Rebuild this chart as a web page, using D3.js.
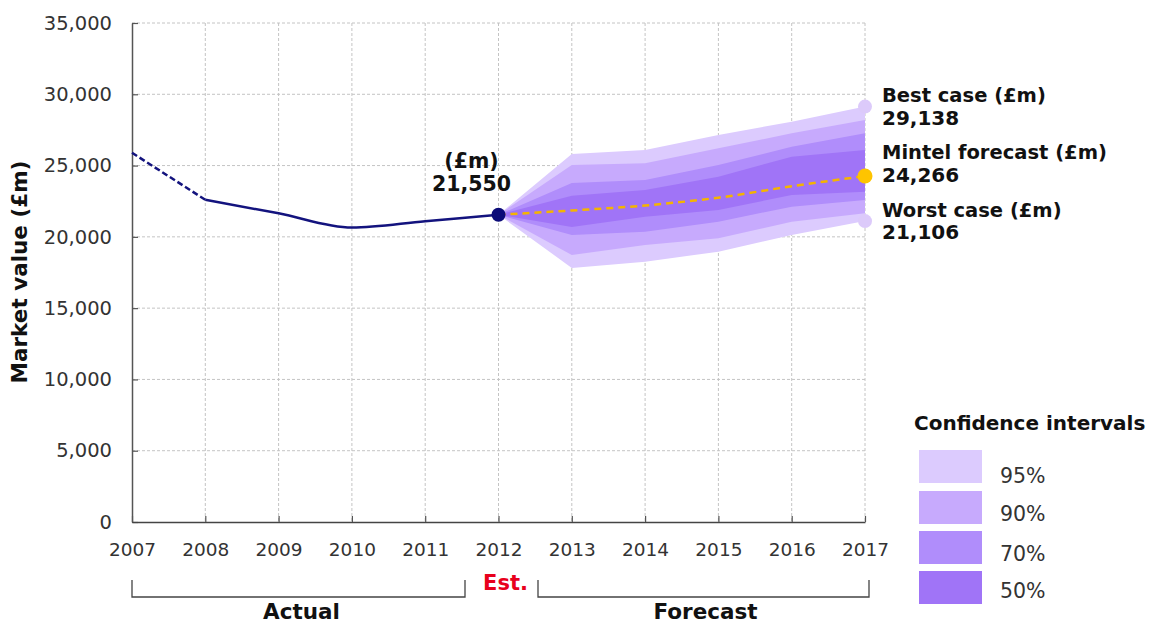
<!DOCTYPE html>
<html>
<head>
<meta charset="utf-8">
<script src="https://cdn.jsdelivr.net/npm/d3@7"></script>
<style>
  html, body { margin: 0; padding: 0; background: #fff; }
  svg { display: block; font-family: Verdana, "DejaVu Sans", sans-serif; }
</style>
</head>
<body>
<svg id="chart" width="1152" height="625"></svg>
<script>
// Market value, actual years (£m)
const actualYears = [2007, 2008, 2009, 2010, 2011, 2012];
const actualValues = [25900, 22600, 21650, 20650, 21100, 21550];

// Forecast years and central forecast (£m)
const forecastYears = [2012, 2013, 2014, 2015, 2016, 2017];
const forecastValues = [21550, 21850, 22200, 22750, 23550, 24266];

// Confidence interval bounds (£m)
const ci95Upper = [21550, 25810, 26090, 27150, 28080, 29138];
const ci95Lower = [21550, 17820, 18260, 18960, 20130, 21106];
const ci90Upper = [21550, 25040, 25160, 26210, 27260, 28200];
const ci90Lower = [21550, 18730, 19430, 19900, 21065, 21650];
const ci70Upper = [21550, 23780, 23990, 25040, 26320, 27260];
const ci70Lower = [21550, 20130, 20360, 21065, 22115, 22585];
const ci50Upper = [21550, 22890, 23290, 24220, 25620, 26090];
const ci50Lower = [21550, 20690, 21415, 21885, 22935, 23170];

const bandLabels = ["95%", "90%", "70%", "50%"];
const bandColors = ["#dccbfe", "#c7aafd", "#b08dfb", "#a074f7"];

const xTicks = [2007, 2008, 2009, 2010, 2011, 2012, 2013, 2014, 2015, 2016, 2017];
const yTicks = [0, 5000, 10000, 15000, 20000, 25000, 30000, 35000];

const estValue = 21550;
const bestCase = 29138;
const mintelForecast = 24266;
const worstCase = 21106;

const svg = d3.select("#chart");
const plotLeft = 132, plotRight = 865, plotTop = 23, plotBottom = 522;

const x = d3.scaleLinear().domain([2007, 2017]).range([plotLeft, plotRight]);
const y = d3.scaleLinear().domain([0, 35000]).range([plotBottom, plotTop]);

// Grid
const grid = svg.append("g").attr("class", "grid");
grid.selectAll("line.v").data(xTicks.slice(1)).join("line").attr("class", "v")
  .attr("x1", d => x(d)).attr("x2", d => x(d))
  .attr("y1", y(35000)).attr("y2", y(0))
  .attr("stroke", "#c4c4c4").attr("stroke-width", 1).attr("stroke-dasharray", "3,2");
grid.selectAll("line.h").data(yTicks.slice(1)).join("line").attr("class", "h")
  .attr("x1", plotLeft).attr("x2", plotRight)
  .attr("y1", d => y(d)).attr("y2", d => y(d))
  .attr("stroke", "#c4c4c4").attr("stroke-width", 1).attr("stroke-dasharray", "3,2");

// Confidence bands, widest first
const bands = [
  { upper: ci95Upper, lower: ci95Lower },
  { upper: ci90Upper, lower: ci90Lower },
  { upper: ci70Upper, lower: ci70Lower },
  { upper: ci50Upper, lower: ci50Lower }
];
const area = d3.area()
  .x(d => x(d.year))
  .y0(d => y(d.lo))
  .y1(d => y(d.hi))
  .curve(d3.curveLinear);
bands.forEach((b, i) => {
  const pts = forecastYears.map((yr, j) => ({ year: yr, lo: b.lower[j], hi: b.upper[j] }));
  svg.append("path").datum(pts)
    .attr("d", area)
    .attr("fill", bandColors[i]);
});

// Axes
const yAxis = d3.axisLeft(y).tickValues(yTicks).tickFormat(d3.format(","))
  .tickSize(-6).tickSizeOuter(0).tickPadding(20);
const gy = svg.append("g").attr("transform", `translate(${plotLeft},0)`).call(yAxis);
gy.select(".domain").attr("stroke", "#555").attr("stroke-width", 1.5);
gy.selectAll(".tick line").attr("stroke", "#555").attr("stroke-width", 1.2);
gy.selectAll(".tick text").attr("font-size", 19.5).attr("fill", "#333")
  .attr("font-family", "Verdana, 'DejaVu Sans', sans-serif");

const xAxis = d3.axisBottom(x).tickValues(xTicks).tickFormat(d3.format("d"))
  .tickSize(-6).tickSizeOuter(0).tickPadding(21);
const gx = svg.append("g").attr("transform", `translate(0,${plotBottom})`).call(xAxis);
gx.select(".domain").attr("stroke", "#444").attr("stroke-width", 1.5);
gx.selectAll(".tick line").attr("stroke", "#555").attr("stroke-width", 1.2);
gx.selectAll(".tick text").attr("font-size", 18.5).attr("fill", "#333")
  .attr("font-family", "Verdana, 'DejaVu Sans', sans-serif");

// Actual line: dashed first segment, solid thereafter
const line = d3.line().x(d => x(d[0])).y(d => y(d[1])).curve(d3.curveMonotoneX);
const actualPts = actualYears.map((yr, i) => [yr, actualValues[i]]);
svg.append("path").datum(actualPts.slice(0, 2))
  .attr("d", line).attr("fill", "none")
  .attr("stroke", "#13137e").attr("stroke-width", 2.5).attr("stroke-dasharray", "6,3");
svg.append("path").datum(actualPts.slice(1))
  .attr("d", line).attr("fill", "none")
  .attr("stroke", "#13137e").attr("stroke-width", 2.5);

// Forecast line
const forecastPts = forecastYears.map((yr, i) => [yr, forecastValues[i]]);
svg.append("path").datum(forecastPts)
  .attr("d", line).attr("fill", "none")
  .attr("stroke", "#f5b400").attr("stroke-width", 2.5).attr("stroke-dasharray", "7,5");

// Points
svg.append("circle").attr("cx", x(2012)).attr("cy", y(estValue)).attr("r", 7).attr("fill", "#0b0b78");
svg.append("circle").attr("cx", x(2017)).attr("cy", y(bestCase)).attr("r", 7).attr("fill", "#dccafa");
svg.append("circle").attr("cx", x(2017)).attr("cy", y(worstCase)).attr("r", 7).attr("fill", "#dccafa");
svg.append("circle").attr("cx", x(2017)).attr("cy", y(mintelForecast)).attr("r", 7.5).attr("fill", "#fec400");

const fmt = d3.format(",");
const bold = (sel) => sel.attr("font-weight", "bold").attr("fill", "#111");

// Estimate label
bold(svg.append("text").attr("x", x(2012) - 27).attr("y", y(estValue) - 47)
  .attr("text-anchor", "middle").attr("font-size", 20.5).text("(£m)"));
bold(svg.append("text").attr("x", x(2012) - 27).attr("y", y(estValue) - 24)
  .attr("text-anchor", "middle").attr("font-size", 20.5).text(fmt(estValue)));

// Right-hand labels
const rx = x(2017) + 17;
const rightLabels = [
  ["Best case (£m)", bestCase, 102, 125],
  ["Mintel forecast (£m)", mintelForecast, 159, 182],
  ["Worst case (£m)", worstCase, 217, 239]
];
rightLabels.forEach(([t, v, y1, y2]) => {
  bold(svg.append("text").attr("x", rx).attr("y", y1).attr("font-size", 19.5).text(t));
  bold(svg.append("text").attr("x", rx).attr("y", y2).attr("font-size", 20).text(fmt(v)));
});

// Y axis title
bold(svg.append("text")
  .attr("transform", "translate(27,272) rotate(-90)")
  .attr("text-anchor", "middle").attr("font-size", 21.5).text("Market value (£m)"));

// Legend
bold(svg.append("text").attr("x", 914).attr("y", 430).attr("font-size", 20).text("Confidence intervals"));
const legendTops = [450, 491, 531, 571];
const legendBase = [483, 521, 561, 598];
bandLabels.forEach((lab, i) => {
  svg.append("rect").attr("x", 919).attr("y", legendTops[i]).attr("width", 63).attr("height", 33)
    .attr("fill", bandColors[i]);
  svg.append("text").attr("x", 1000).attr("y", legendBase[i]).attr("font-size", 20.5)
    .attr("fill", "#333").text(lab);
});

// Period brackets
const bracket = (x1, x2) => {
  svg.append("path")
    .attr("d", `M${x1},580V597H${x2}V580`)
    .attr("fill", "none").attr("stroke", "#444").attr("stroke-width", 1.3);
};
bracket(x(2007), 465);
bracket(538, x(2017) + 4);
bold(svg.append("text").attr("x", (x(2007) + 465) / 2 + 3).attr("y", 619)
  .attr("text-anchor", "middle").attr("font-size", 21.5).text("Actual"));
bold(svg.append("text").attr("x", (538 + x(2017) + 4) / 2 + 2).attr("y", 619)
  .attr("text-anchor", "middle").attr("font-size", 21.5).text("Forecast"));
svg.append("text").attr("x", x(2012) + 7).attr("y", 590).attr("text-anchor", "middle")
  .attr("font-size", 21).attr("font-weight", "bold").attr("fill", "#e8001c").text("Est.");
</script>
</body>
</html>
